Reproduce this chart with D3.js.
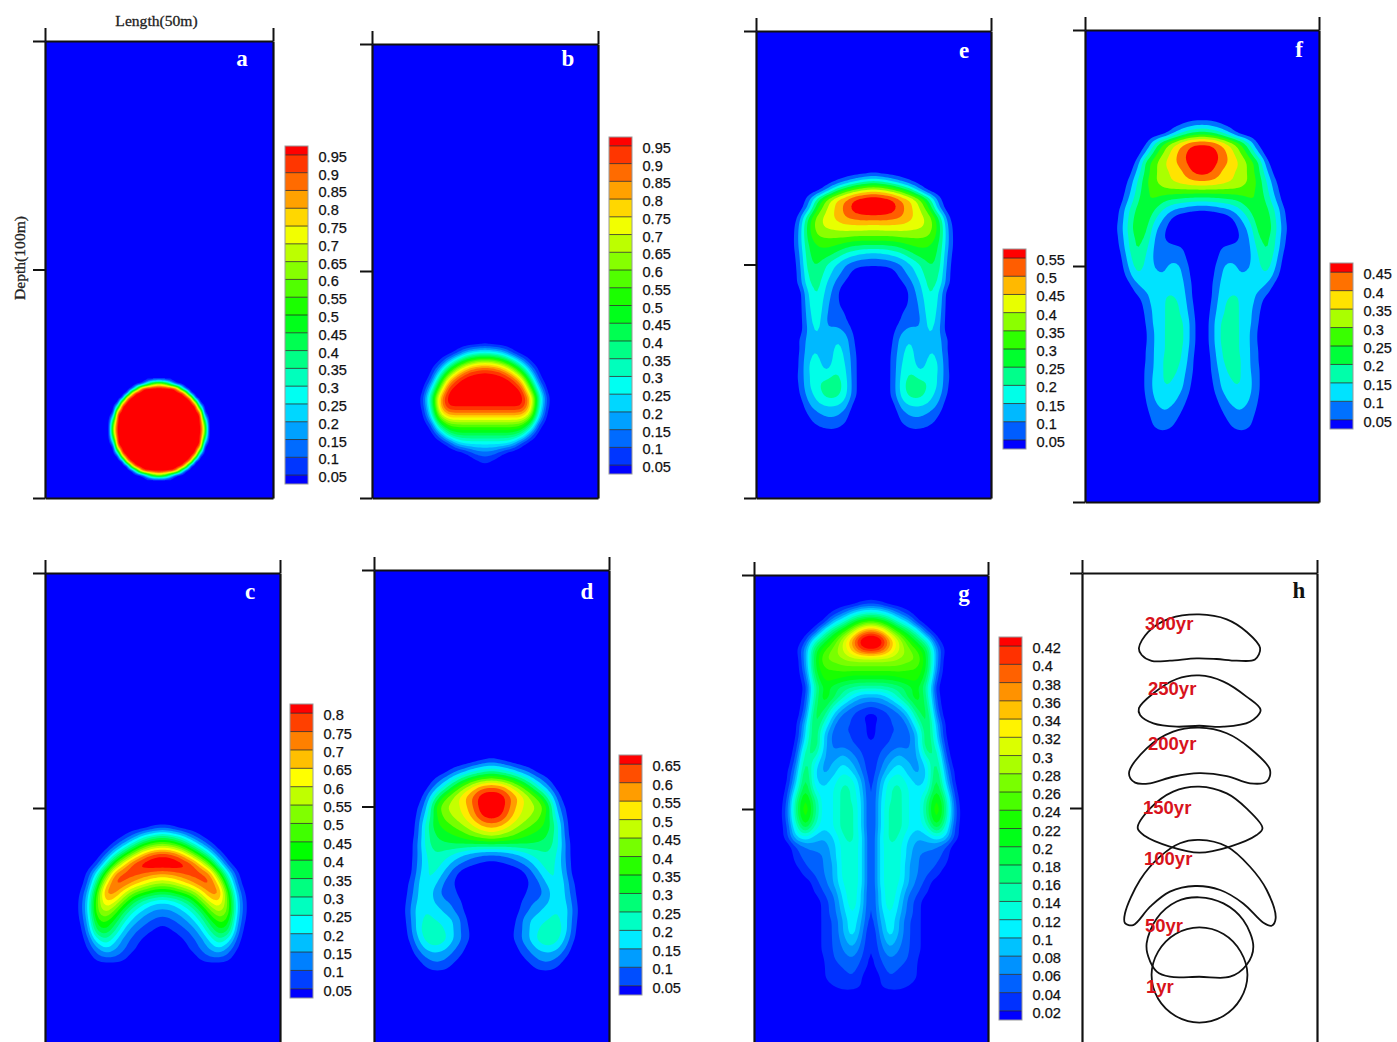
<!DOCTYPE html>
<html>
<head>
<meta charset="utf-8">
<script src="https://cdn.jsdelivr.net/npm/d3@7"></script>
<style>
  html, body { margin: 0; padding: 0; background: #fff; overflow: hidden; }
  svg { display: block; }
  .bar-label { font-family: "Liberation Sans", Arial, sans-serif; font-size: 14.6px; fill: #111; stroke: #111; stroke-width: 0.25px; }
  .panel-letter { font-family: "Liberation Serif", serif; font-weight: bold; font-size: 23px; }
  .axis-title { font-family: "Liberation Serif", serif; font-size: 15.6px; fill: #222; stroke: #222; stroke-width: 0.3px; }
  .age-label { font-family: "Liberation Sans", Arial, sans-serif; font-weight: bold; font-size: 18.5px; fill: #d8131c; }
</style>
</head>
<body>
<div id="chart"></div>
<script>
// Contour levels shown on each colour bar
const levelsA = [0.05,0.1,0.15,0.2,0.25,0.3,0.35,0.4,0.45,0.5,0.55,0.6,0.65,0.7,0.75,0.8,0.85,0.9,0.95];
const levelsB = levelsA;
const levelsC = [0.05,0.1,0.15,0.2,0.25,0.3,0.35,0.4,0.45,0.5,0.55,0.6,0.65,0.7,0.75,0.8];
const levelsD = [0.05,0.1,0.15,0.2,0.25,0.3,0.35,0.4,0.45,0.5,0.55,0.6,0.65];
const levelsE = [0.05,0.1,0.15,0.2,0.25,0.3,0.35,0.4,0.45,0.5,0.55];
const levelsF = [0.05,0.1,0.15,0.2,0.25,0.3,0.35,0.4,0.45];
const levelsG = [0.02,0.04,0.06,0.08,0.1,0.12,0.14,0.16,0.18,0.2,0.22,0.24,0.26,0.28,0.3,0.32,0.34,0.36,0.38,0.4,0.42];

// Concentration in percent. Each row runs from the
// centre line outwards, the plume is mirrored, trailing zeros are left out.
const fieldA = [ // 1 m grid, first row at 75 m
  [67,61,44,18],
  [100,100,100,100,83,33],
  [100,100,100,100,100,100,67],
  [100,100,100,100,100,100,100,78],
  [100,100,100,100,100,100,100,100,67],
  [100,100,100,100,100,100,100,100,100,33],
  [100,100,100,100,100,100,100,100,100,83],
  [100,100,100,100,100,100,100,100,100,100,18],
  [100,100,100,100,100,100,100,100,100,100,44],
  [100,100,100,100,100,100,100,100,100,100,61],
  [100,100,100,100,100,100,100,100,100,100,67],
  [100,100,100,100,100,100,100,100,100,100,61],
  [100,100,100,100,100,100,100,100,100,100,44],
  [100,100,100,100,100,100,100,100,100,100,18],
  [100,100,100,100,100,100,100,100,100,83],
  [100,100,100,100,100,100,100,100,100,33],
  [100,100,100,100,100,100,100,100,67],
  [100,100,100,100,100,100,100,78],
  [100,100,100,100,100,100,67],
  [100,100,100,100,83,33],
  [67,61,44,18]
];
const fieldB = [ // 2 m grid, first row at 66 m
  [3],
  [28,26,20,7],
  [68,65,56,40,20,4],
  [95,93,87,72,50,20,2],
  [100,100,100,94,78,42,7],
  [100,100,100,100,95,62,22],
  [100,100,100,100,100,82,35,4],
  [96,96,96,96,96,80,30,3],
  [78,78,78,78,78,65,22],
  [58,58,58,58,56,40,6],
  [42,42,42,42,36,14],
  [26,26,26,22,7],
  [13,12,5],
  [7,3]
];
const fieldC = [ // 2 m grid, first row at 54 m
  [6,4],
  [32,28,22,12,5],
  [55,52,45,33,20,9],
  [80,78,70,58,43,27,10],
  [86,86,84,79,67,50,26,7],
  [70,72,75,78,78,73,48,22,5],
  [55,57,62,68,75,78,64,34,8],
  [38,40,45,50,60,72,74,45,14,2],
  [20,22,27,35,47,60,66,50,18,3],
  [13,14,18,24,34,48,57,50,18,3],
  [7,9,12,17,25,38,47,44,15,2],
  [2,5,8,11,18,30,40,37,12],
  [0,0,4,8,12,21,30,24,7],
  [0,0,0,6,10,15,20,13,4],
  [0,0,0,0,6,9,9,7]
];
const fieldD = [ // 2 m grid, first row at 40 m
  [5,3],
  [20,18,14,8,5],
  [40,37,33,27,18,10,4],
  [62,60,52,43,34,22,12,2],
  [70,69,61,54,46,38,24,8],
  [70,69,60,52,47,45,35,12,3],
  [69,66,57,50,46,42,33,17,4],
  [58,56,50,45,41,37,33,22,5],
  [48,45,42,38,35,33,30,22,6],
  [30,30,30,30,30,29,28,22,8],
  [10,11,13,16,20,23,25,20,8],
  [3,4,6,9,13,19,23,19,9],
  [0,0,0,2,7,14,21,20,10],
  [0,0,0,0,5,9,17,22,12,3],
  [0,0,0,0,7,8,12,22,13,4],
  [0,0,0,4,9,10,14,20,15,5],
  [0,0,0,5,10,14,18,20,17,6],
  [0,0,1,8,15,18,20,22,16,5],
  [0,0,3,8,15,20,24,24,16,4],
  [0,0,3,9,15,22,26,22,13,3],
  [0,0,0,6,11,16,18,16,9],
  [0,0,0,3,7,11,12,10,4],
  [0,0,0,0,3,7,8,5]
];
const fieldE = [ // 2 m grid, first row at 30 m
  [2],
  [18,16,12,7,3],
  [42,40,36,30,21,9],
  [60,59,56,50,45,36,22,6],
  [61,60,58,52,46,40,30,10],
  [53,53,52,50,46,42,38,25,5],
  [42,43,43,43,42,41,38,28,8],
  [35,35,35,36,36,36,35,27,9],
  [24,24,25,27,30,31,30,25,9],
  [12,13,15,18,23,27,28,24,7],
  [6,6,7,10,15,20,26,23,6],
  [0,0,2,8,12,18,24,21,5],
  [0,0,0,4,9,15,23,19,5],
  [0,0,0,0,7,13,22,15],
  [0,0,0,1,7,11,21,14],
  [0,0,0,5,7,10,20,13],
  [0,0,1,6,7,9,19,12],
  [0,0,3,9,12,10,17,11],
  [0,0,4,13,15,10,15,12,4],
  [0,0,5,14,17,10,15,13,3],
  [0,0,6,15,18,10,17,14,4],
  [0,0,6,16,19,12,19,15,4],
  [0,0,6,17,22,18,19,14,5],
  [0,0,6,18,24,23,19,14,4],
  [0,0,6,17,22,22,17,12,3],
  [0,0,2,13,16,16,14,9],
  [0,0,0,8,11,11,9,5],
  [0,0,0,5,8,8,6,3],
  [0,0,0,1,3,3,2]
];
const fieldF = [ // 2 m grid, first row at 18 m
  [0],
  [9,8,5,2],
  [23,21,17,10,2],
  [46,45,40,34,27,16,3],
  [49,48,44,38,31,23,10],
  [49,48,44,39,35,29,22,5],
  [48,46,40,36,34,29,22,10],
  [41,40,38,36,33,30,24,14,4],
  [29,29,29,29,29,27,24,16,6],
  [17,17,18,19,21,25,25,18,9],
  [5,6,8,10,14,20,26,21,13,3],
  [0,0,0,3,9,15,24,23,14,4],
  [0,0,0,0,6,11,22,24,15,5],
  [0,0,0,0,5,9,20,22,14,4],
  [0,0,5,7,7,8,17,22,13,3],
  [0,0,7,8,8,8,15,20,11,1],
  [0,2,9,12,9,9,14,18,9],
  [0,3,10,13,10,11,13,15,6],
  [0,4,11,14,12,12,13,9,2],
  [0,4,12,15,15,13,9,5],
  [0,5,13,17,15,12,8],
  [0,6,14,17,15,12,6],
  [0,7,16,17,15,12,5],
  [0,7,16,18,15,11,4],
  [0,7,16,18,15,11,4],
  [0,6,15,18,15,11,5],
  [0,5,14,18,16,11,5],
  [0,5,12,17,16,11,6],
  [0,4,11,15,16,12,6],
  [0,3,10,14,15,12,6],
  [0,2,7,12,13,11,5],
  [0,1,5,9,11,9,4],
  [0,0,3,7,9,7,3],
  [0,0,0,5,7,6,2],
  [0,0,0,1,3,2]
];
const fieldG = [ // 2 m grid, first row at 6 m
  [3,2],
  [13,12,9,5,2],
  [25,23,19,13,9,2],
  [39,36,29,23,18,12,3],
  [47,45,37,30,24,19,13,3],
  [43,41,35,30,27,24,19,7,1],
  [29,29,29,28,27,26,20,7],
  [25,25,25,25,24,24,20,6],
  [21,21,21,22,23,23,18,4],
  [15,15,16,17,19,21,15,2],
  [8,8,11,15,19,22,16,3],
  [4,5,6,9,14,20,18,4],
  [1,2,4,5,9,17,20,6],
  [1,3,4,4,6,13,20,9,1],
  [1,3,4,4,5,9,20,10,1],
  [2,3,4,5,5,9,20,12,2],
  [2,4,6,8,6,8,17,16,3],
  [2,5,8,10,8,7,12,18,5],
  [2,6,10,12,9,7,10,20,7,1],
  [2,8,13,14,11,9,10,21,9,1],
  [2,9,14,15,12,10,12,22,12,2],
  [2,10,14,15,12,10,16,24,16,3],
  [2,10,15,15,12,10,17,25,17,4],
  [2,10,15,15,12,10,16,24,16,4],
  [2,10,15,15,12,10,13,20,13,3],
  [2,11,15,14,10,8,9,12,10,3],
  [2,11,14,13,9,7,7,6,4],
  [2,11,14,13,9,6,5,5,3],
  [2,11,14,13,8,6,5,4,2],
  [2,11,14,13,8,6,4,3],
  [2,11,14,12,8,5,3],
  [2,10,14,11,6,4,2],
  [2,10,14,10,5,3],
  [2,9,13,9,5,3],
  [2,8,12,8,4,3],
  [1,7,12,8,4,3],
  [1,6,10,7,4,3],
  [1,5,8,6,4,3],
  [1,4,6,5,4,2],
  [1,3,5,4,3,2],
  [0,2,4,3,3,2],
  [0,2,3,3,2,1]
];

// Panel h: plume outline per age, [length m, depth m]
const ageNames = ["300yr","250yr","200yr","150yr","100yr","50yr","1yr"];
const outline300 = [[24.95,8.8],[30.8,9.85],[35,12.5],[37.9,16],[36.8,18.4],[32.9,18.65],[28.65,18.3],[24.4,18.15],[18.7,18.65],[14.8,18.7],[12.7,17.45],[12.1,16],[14.1,12.5],[18.7,9.65]];
const outline250 = [[24.95,21.8],[30.1,23.1],[35,26.3],[38,29.15],[35.75,31.65],[30.1,32.7],[24.95,32.5],[20.15,32.7],[15.2,32],[12.35,30.2],[12.1,28.8],[15.2,25.6],[20.15,22.55]];
const outline200 = [[24.95,32.9],[30.8,34.1],[35.75,37.3],[40,41.9],[39.3,44.4],[35.75,44.75],[30.8,43.2],[24.95,42.6],[19.4,43.35],[14.5,44.75],[11.3,44.6],[10,42.6],[13.75,37.3],[19.4,33.75]];
const outline150 = [[24.95,45.45],[30.8,46.9],[35,50.1],[38.4,54.3],[37.15,55.75],[31.5,58.2],[24.95,59.5],[18.7,58.2],[13.4,55.95],[11.85,54.3],[14.5,50.1],[19.4,46.5]];
const outline100 = [[24.95,56.8],[30.8,58.2],[35.75,62.5],[39.3,67.45],[41.2,73.5],[40.35,75.05],[38.6,74.4],[34.3,70.3],[29.4,67.45],[24.05,66.6],[18.7,67.8],[14.5,71],[10.9,74.9],[9.15,74.5],[9.15,72.4],[12.35,65.3],[16.6,60.35],[20.85,57.5]];
const outline50 = [[24.95,69],[30.1,70.3],[34.3,73.85],[36.45,79.5],[35,83.4],[31.5,85.9],[24.95,85.9],[18.7,85.9],[15.9,84.8],[14.1,81.6],[13.75,78.8],[15.9,73.5],[20.15,69.9]];
const outline1 = [[24.95,75.4],[30.1,76.8],[33.75,80.55],[35.2,85.5],[33.75,90.6],[30.1,94.25],[24.95,95.65],[19.9,94.25],[16.2,90.6],[14.8,85.5],[16.2,80.55],[19.9,76.8]];
const ageOutlines = [outline300,outline250,outline200,outline150,outline100,outline50,outline1];

// Layout of the panels in pixels
const panels = [
  { id: "a", field: fieldA, levels: levelsA, start: 75, step: 1, left: 45, right: 273, top: 41, bottom: 498, bar: [285, 146, 484], letter: [242, 58] },
  { id: "b", field: fieldB, levels: levelsB, start: 66, step: 2, left: 372, right: 598, top: 44, bottom: 498, bar: [609, 137, 474], letter: [568, 58] },
  { id: "c", field: fieldC, levels: levelsC, start: 54, step: 2, left: 45, right: 280, top: 573, bottom: 1043, bar: [290, 704, 998], letter: [250, 591] },
  { id: "d", field: fieldD, levels: levelsD, start: 40, step: 2, left: 374, right: 609, top: 570, bottom: 1043, bar: [619, 755, 995], letter: [587, 591] },
  { id: "e", field: fieldE, levels: levelsE, start: 30, step: 2, left: 756, right: 991, top: 31, bottom: 498, bar: [1003, 249, 449], letter: [964, 50] },
  { id: "f", field: fieldF, levels: levelsF, start: 18, step: 2, left: 1085, right: 1319, top: 30, bottom: 502, bar: [1330, 263, 429], letter: [1299, 49] },
  { id: "g", field: fieldG, levels: levelsG, start: 6, step: 2, left: 754, right: 988, top: 575, bottom: 1043, bar: [999, 637, 1020], letter: [964, 593] },
  { id: "h", left: 1082, right: 1317, top: 573, bottom: 1043, letter: [1299, 590] }
];

const barWidth = 23;
const fine = 4; // contour grid is 4x the read grid, lightly blurred so edges stay round
const rainbow = d3.scaleLinear()
  .domain([0, 0.25, 0.5, 0.75, 1])
  .range(["#0000ff", "#00ffff", "#00ff00", "#ffff00", "#ff0000"]);

const svg = d3.select("#chart").append("svg")
  .attr("width", 1397)
  .attr("height", 1042);

panels.forEach(p => {
  const x = d3.scaleLinear().domain([0, 50]).range([p.left, p.right]);
  const y = d3.scaleLinear().domain([0, 100]).range([p.top, p.bottom]);
  const g = svg.append("g").attr("class", "panel-" + p.id);

  if (p.field) {
    drawField(g, p, x, y);
    drawColorBar(p);
  } else {
    drawOutlines(g, x, y);
  }

  drawFrame(g, p, x, y);

  g.append("text")
    .attr("class", "panel-letter")
    .attr("x", p.letter[0])
    .attr("y", p.letter[1])
    .attr("text-anchor", "middle")
    .attr("dominant-baseline", "central")
    .attr("fill", p.field ? "#fff" : "#111")
    .text(p.id);
});

// Axis titles only sit on the first panel
svg.append("text")
  .attr("class", "axis-title")
  .attr("x", 156.5)
  .attr("y", 20.5)
  .attr("text-anchor", "middle")
  .attr("dominant-baseline", "central")
  .text("Length(50m)");

svg.append("text")
  .attr("class", "axis-title")
  .attr("transform", "translate(19,258) rotate(-90)")
  .attr("text-anchor", "middle")
  .attr("dominant-baseline", "central")
  .text("Depth(100m)");

function drawField(g, p, x, y) {
  const halfCols = d3.max(p.field, r => r.length) + 1;
  const cols = 2 * halfCols + 1;
  const rows = p.field.length + 2;
  const values = new Array(cols * rows).fill(0);

  // mirror the half rows about the centre line, one empty row above and below
  p.field.forEach((r, j) => {
    r.forEach((v, i) => {
      values[(j + 1) * cols + halfCols + i] = v / 100;
      values[(j + 1) * cols + halfCols - i] = v / 100;
    });
  });

  // resample for drawing only
  const w = (cols - 1) * fine + 1;
  const h = (rows - 1) * fine + 1;
  const smooth = new Float64Array(w * h);
  for (let j = 0; j < h; j++) {
    const v = j / fine, j0 = Math.min(Math.floor(v), rows - 2), fy = v - j0;
    for (let i = 0; i < w; i++) {
      const u = i / fine, i0 = Math.min(Math.floor(u), cols - 2), fx = u - i0;
      smooth[j * w + i] =
        values[j0 * cols + i0] * (1 - fx) * (1 - fy) +
        values[j0 * cols + i0 + 1] * fx * (1 - fy) +
        values[(j0 + 1) * cols + i0] * (1 - fx) * fy +
        values[(j0 + 1) * cols + i0 + 1] * fx * fy;
    }
  }
  d3.blur2({ data: smooth, width: w, height: h }, 1);

  const contours = d3.contours().size([w, h]).thresholds(p.levels)(smooth);
  const bandColor = i => rainbow(i / p.levels.length);

  const line = d3.line()
    .x(d => x(25 + ((d[0] - 0.5) / fine - halfCols) * p.step))
    .y(d => y(p.start + ((d[1] - 0.5) / fine - 1) * p.step));

  g.append("rect")
    .attr("x", p.left)
    .attr("y", p.top)
    .attr("width", p.right - p.left)
    .attr("height", p.bottom - p.top)
    .attr("fill", bandColor(0));

  const layer = g.append("g").style("filter", "blur(0.6px)");

  layer.selectAll("path")
    .data(contours)
    .join("path")
    .attr("fill", (d, i) => bandColor(i + 1))
    .attr("fill-rule", "evenodd")
    .attr("d", c => c.coordinates
      .map(poly => poly.map(ring => line(ring.slice(0, -1)) + "Z").join(""))
      .join(""));
}

function drawOutlines(g, x, y) {
  const line = d3.line()
    .x(d => x(d[0]))
    .y(d => y(d[1]))
    .curve(d3.curveCatmullRomClosed.alpha(0.5));

  g.selectAll("path.age")
    .data(ageOutlines)
    .join("path")
    .attr("class", "age")
    .attr("d", line)
    .attr("fill", "none")
    .attr("stroke", "#111")
    .attr("stroke-width", 1.8);

  const labelPos = [[1145, 623], [1148, 688], [1148, 743], [1143, 807], [1144, 858], [1145, 925], [1146, 986]];
  g.selectAll("text.age-label")
    .data(ageNames)
    .join("text")
    .attr("class", "age-label")
    .attr("x", (d, i) => labelPos[i][0])
    .attr("y", (d, i) => labelPos[i][1])
    .attr("dominant-baseline", "central")
    .text(d => d);
}

function drawFrame(g, p, x, y) {
  const clean = sel => {
    sel.selectAll("path.domain").attr("stroke", "#111").attr("stroke-width", 2.2);
    sel.selectAll("line").attr("stroke", "#111").attr("stroke-width", 2);
  };

  g.append("g")
    .attr("transform", `translate(${p.left},0)`)
    .call(d3.axisLeft(y).tickValues([0, 50, 100]).tickSize(12).tickSizeOuter(0).tickFormat(""))
    .call(clean);
  g.append("g")
    .attr("transform", `translate(0,${p.top})`)
    .call(d3.axisTop(x).tickValues([0, 50]).tickSize(13).tickSizeOuter(0).tickFormat(""))
    .call(clean);
  g.append("g")
    .attr("transform", `translate(${p.right},0)`)
    .call(d3.axisRight(y).tickValues([]).tickSize(0))
    .call(clean);
  g.append("g")
    .attr("transform", `translate(0,${p.bottom})`)
    .call(d3.axisBottom(x).tickValues([]).tickSize(0))
    .call(clean);
}

function drawColorBar(p) {
  const [barX, barTop, barBottom] = p.bar;
  const n = p.levels.length;
  const h = (barBottom - barTop) / n;
  const yLevel = d3.scaleLinear()
    .domain([p.levels[0], p.levels[n - 1]])
    .range([barBottom - h / 2, barTop + h / 2]);
  const g = svg.append("g").attr("class", "bar-" + p.id);

  // n levels give n + 1 bands, the outer two are half height
  const bands = d3.range(n + 1);
  g.selectAll("rect.band")
    .data(bands)
    .join("rect")
    .attr("class", "band")
    .attr("x", barX)
    .attr("width", barWidth)
    .attr("y", i => i === n ? barTop : yLevel(p.levels[i]))
    .attr("height", i => {
      const bottomEdge = i === 0 ? barBottom : yLevel(p.levels[i - 1]);
      const topEdge = i === n ? barTop : yLevel(p.levels[i]);
      return bottomEdge - topEdge;
    })
    .attr("fill", i => rainbow(i / n));

  g.selectAll("line")
    .data(p.levels)
    .join("line")
    .attr("x1", barX)
    .attr("x2", barX + barWidth)
    .attr("y1", d => yLevel(d))
    .attr("y2", d => yLevel(d))
    .attr("stroke", "#222")
    .attr("stroke-opacity", 0.75);

  g.append("rect")
    .attr("x", barX)
    .attr("y", barTop)
    .attr("width", barWidth)
    .attr("height", barBottom - barTop)
    .attr("fill", "none")
    .attr("stroke", "#999");

  g.selectAll("text")
    .data(p.levels)
    .join("text")
    .attr("class", "bar-label")
    .attr("x", barX + barWidth + 10.5)
    .attr("y", d => yLevel(d) + 2)
    .attr("dominant-baseline", "central")
    .text(d => d);
}
</script>
</body>
</html>
